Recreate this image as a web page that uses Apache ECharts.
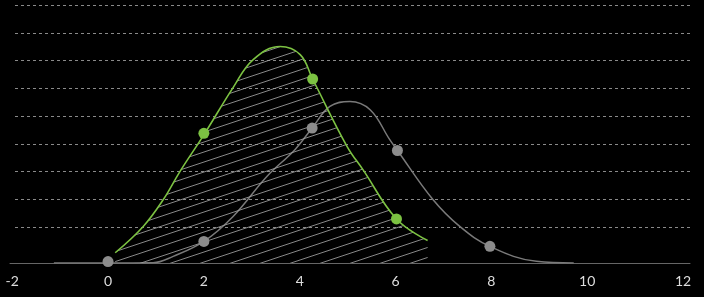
<!DOCTYPE html>
<html>
<head>
<meta charset="utf-8">
<style>
html, body { margin: 0; padding: 0; background: #000; }
#chart { width: 704px; height: 297px; }
</style>
<script src="https://cdn.jsdelivr.net/npm/echarts@6/dist/echarts.min.js"></script>
</head>
<body>
<div id="chart"></div>
<script>
// x axis tick labels
var xTicks = [-2, 0, 2, 4, 6, 8, 10, 12];

// green curve (hatched area)
var greenCurve = [
	[0.15, 0.37], [0.73, 1.31], [1.15, 2.28], [1.5, 3.3], [2.02, 4.68],
	[2.61, 6.33], [3.03, 7.34], [3.59, 7.81], [4.01, 7.52],
	[4.27, 6.64], [4.99, 4.2], [5.32, 3.37], [6.02, 1.59], [6.67, 0.81]
];
var greenPoints = [[2, 4.68], [4.27, 6.64], [6.02, 1.59]];

// gray curve
var grayCurve = [
	[-1.13, 0], [0, 0], [0.94, 0.01], [1.36, 0.24], [2.0, 0.78],
	[2.61, 1.68], [3.32, 3.13], [3.9, 4.09], [4.26, 4.87], [4.63, 5.65],
	[5.05, 5.83], [5.47, 5.53], [5.88, 4.45], [6.04, 4.06], [6.78, 2.29],
	[7.34, 1.32], [7.97, 0.6], [8.94, 0.06], [9.72, 0]
];
var grayPoints = [[0, 0.05], [2, 0.78], [4.26, 4.87], [6.04, 4.06], [7.97, 0.6]];

var GREEN = '#7cc242';
var GRAY = '#7a7a7a';

// diagonal hatch pattern
function hatch() {
	var w = 30, h = 10;
	var c = document.createElement('canvas');
	c.width = w; c.height = h;
	var ctx = c.getContext('2d');
	ctx.strokeStyle = 'rgba(160,160,160,0.85)';
	ctx.lineWidth = 1;
	[-h, 0, h].forEach(function (off) {
		ctx.beginPath();
		ctx.moveTo(-w, 2 * h + off);
		ctx.lineTo(2 * w, -h + off);
		ctx.stroke();
	});
	return c;
}

var Chart = echarts.init(document.getElementById('chart'));
var option = {
	backgroundColor: '#000',
	animation: false,
	grid: [
		{ left: 10, right: 14, top: 5, bottom: 34 }, // data
		{ left: 15, right: 14, top: 5, height: 222 } // dashed lines only
	],
	xAxis: [{
		type: 'value',
		gridIndex: 0,
		min: -2.046,
		max: 12.146,
		splitLine: { show: false },
		axisTick: { show: false },
		axisLine: { lineStyle: { color: '#666', width: 1 } },
		axisLabel: {
			customValues: xTicks,
			color: '#dddddd',
			fontSize: 14,
			fontFamily: 'Lato',
			margin: 11
		}
	}, {
		type: 'value',
		gridIndex: 1,
		show: false
	}],
	yAxis: [{
		type: 'value',
		gridIndex: 0,
		min: 0,
		max: 9.31,
		show: false,
		splitLine: { show: false }
	}, {
		type: 'value',
		gridIndex: 1,
		min: 0,
		max: 8,
		interval: 1,
		axisLine: { show: false },
		axisTick: { show: false },
		axisLabel: { show: false },
		splitLine: { lineStyle: { color: '#8a8a8a', type: [3, 3], width: 1 } }
	}],
	series: [{
		type: 'line',
		data: greenCurve,
		smooth: 0.4,
		showSymbol: false,
		lineStyle: { color: GREEN, width: 1.6 },
		areaStyle: { color: { image: hatch(), repeat: 'repeat' }, opacity: 1 },
		z: 3
	}, {
		type: 'line',
		data: grayCurve,
		smooth: 0.4,
		showSymbol: false,
		lineStyle: { color: GRAY, width: 1.5 },
		z: 2
	}, {
		type: 'scatter',
		data: grayPoints,
		symbolSize: 11,
		itemStyle: { color: '#8c8c8c', opacity: 1 },
		z: 4
	}, {
		type: 'scatter',
		data: greenPoints,
		symbolSize: 11,
		itemStyle: { color: GREEN, opacity: 1 },
		z: 5
	}]
};
Chart.setOption(option);
</script>
</body>
</html>
